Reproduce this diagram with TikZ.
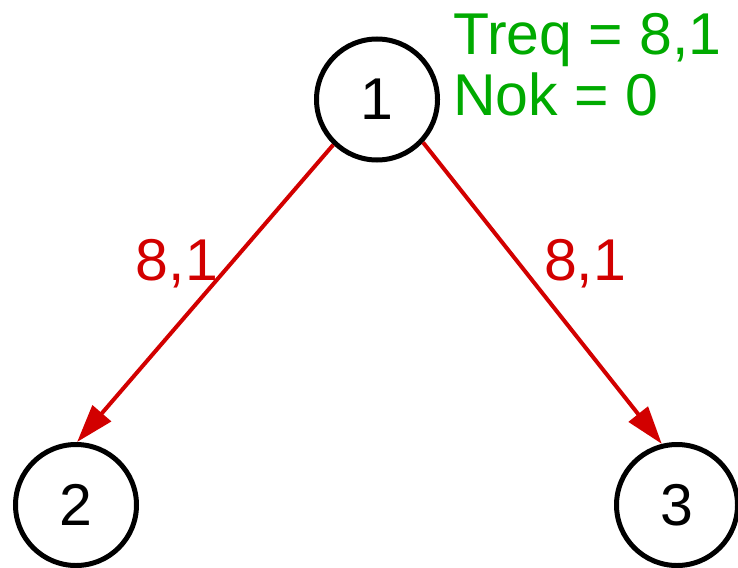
\documentclass[tikz,border=0pt]{standalone}
\usepackage{fontspec}
\setmainfont{Liberation Sans}
\usetikzlibrary{arrows.meta}
\definecolor{myred}{RGB}{210,0,0}
\definecolor{mygreen}{RGB}{0,170,0}
\begin{document}
\begin{tikzpicture}[x=1pt,y=-1pt,
  vertex/.style={circle,draw=black,line width=5pt,minimum size=121pt,inner sep=0pt,font=\fontsize{59}{60}\selectfont},
  edgearrow/.style={draw=myred,line width=4pt,-{Triangle[length=38pt,width=24pt]}},
  elabel/.style={text=myred,anchor=base,inner sep=0pt,font=\fontsize{59}{60}\selectfont},
  info/.style={text=mygreen,anchor=base west,inner sep=0pt,font=\fontsize{59}{60}\selectfont}]
\useasboundingbox (0,0) rectangle (738,567);
\node[vertex] (n1) at (377,99.5) {1};
\node[vertex] (n2) at (76,505) {2};
\node[vertex] (n3) at (677,505) {3};
\draw[edgearrow] (n1.226) -- (n2.89);
\draw[edgearrow] (n1.317) -- (n3.104);
\node[elabel] (l1) at (177,280) {8,1};
\node[elabel] (l2) at (585,280) {8,1};
\node[info] (t1) at (453,55) {Treq = 8,1};
\node[info] (t2) at (453,115) {Nok = 0};
\end{tikzpicture}
\end{document}
